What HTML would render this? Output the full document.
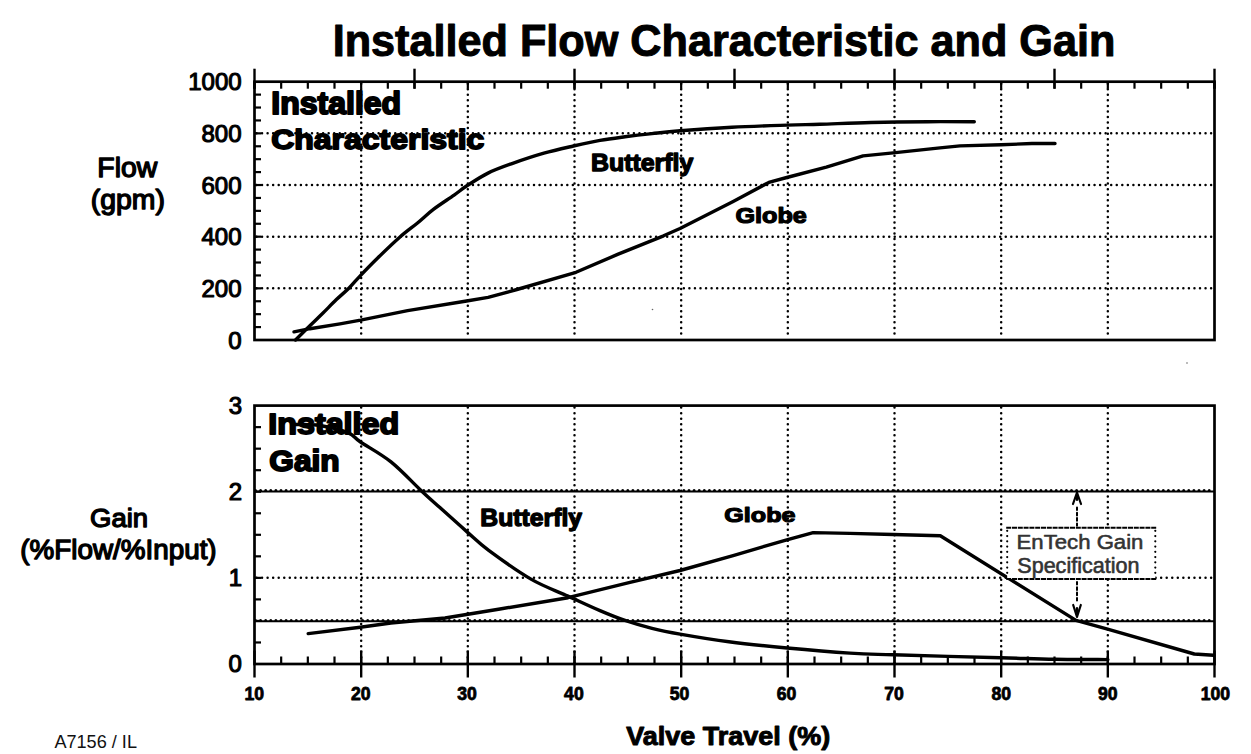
<!DOCTYPE html>
<html><head><meta charset="utf-8"><style>
html,body{margin:0;padding:0;background:#fff;overflow:hidden;}
svg{display:block;}
text{font-family:"Liberation Sans",sans-serif;}
</style></head><body>
<svg width="1251" height="754" viewBox="0 0 1251 754">
<rect width="1251" height="754" fill="#fff"/>
<line x1="361.17" y1="83.70" x2="361.17" y2="339.00" stroke="#000" stroke-width="2.5" stroke-dasharray="0 5.55" stroke-linecap="round"/>
<line x1="467.83" y1="83.70" x2="467.83" y2="339.00" stroke="#000" stroke-width="2.5" stroke-dasharray="0 5.55" stroke-linecap="round"/>
<line x1="574.50" y1="83.70" x2="574.50" y2="339.00" stroke="#000" stroke-width="2.5" stroke-dasharray="0 5.55" stroke-linecap="round"/>
<line x1="681.17" y1="83.70" x2="681.17" y2="339.00" stroke="#000" stroke-width="2.5" stroke-dasharray="0 5.55" stroke-linecap="round"/>
<line x1="787.83" y1="83.70" x2="787.83" y2="339.00" stroke="#000" stroke-width="2.5" stroke-dasharray="0 5.55" stroke-linecap="round"/>
<line x1="894.50" y1="83.70" x2="894.50" y2="339.00" stroke="#000" stroke-width="2.5" stroke-dasharray="0 5.55" stroke-linecap="round"/>
<line x1="1001.17" y1="83.70" x2="1001.17" y2="339.00" stroke="#000" stroke-width="2.5" stroke-dasharray="0 5.55" stroke-linecap="round"/>
<line x1="1107.83" y1="83.70" x2="1107.83" y2="339.00" stroke="#000" stroke-width="2.5" stroke-dasharray="0 5.55" stroke-linecap="round"/>
<line x1="256.50" y1="288.34" x2="1213.50" y2="288.34" stroke="#000" stroke-width="2.5" stroke-dasharray="0 5.55" stroke-linecap="round"/>
<line x1="256.50" y1="236.68" x2="1213.50" y2="236.68" stroke="#000" stroke-width="2.5" stroke-dasharray="0 5.55" stroke-linecap="round"/>
<line x1="256.50" y1="185.02" x2="1213.50" y2="185.02" stroke="#000" stroke-width="2.5" stroke-dasharray="0 5.55" stroke-linecap="round"/>
<line x1="256.50" y1="133.36" x2="1213.50" y2="133.36" stroke="#000" stroke-width="2.5" stroke-dasharray="0 5.55" stroke-linecap="round"/>
<rect x="254.50" y="81.70" width="960.00" height="258.30" fill="none" stroke="#000" stroke-width="2.7"/>
<line x1="254.50" y1="81.70" x2="254.50" y2="88.70" stroke="#000" stroke-width="2.2" />
<line x1="281.17" y1="81.70" x2="281.17" y2="88.70" stroke="#000" stroke-width="2.2" />
<line x1="307.83" y1="81.70" x2="307.83" y2="88.70" stroke="#000" stroke-width="2.2" />
<line x1="334.50" y1="81.70" x2="334.50" y2="88.70" stroke="#000" stroke-width="2.2" />
<line x1="361.17" y1="81.70" x2="361.17" y2="88.70" stroke="#000" stroke-width="2.2" />
<line x1="387.83" y1="81.70" x2="387.83" y2="88.70" stroke="#000" stroke-width="2.2" />
<line x1="414.50" y1="81.70" x2="414.50" y2="88.70" stroke="#000" stroke-width="2.2" />
<line x1="441.17" y1="81.70" x2="441.17" y2="88.70" stroke="#000" stroke-width="2.2" />
<line x1="467.83" y1="81.70" x2="467.83" y2="88.70" stroke="#000" stroke-width="2.2" />
<line x1="494.50" y1="81.70" x2="494.50" y2="88.70" stroke="#000" stroke-width="2.2" />
<line x1="521.17" y1="81.70" x2="521.17" y2="88.70" stroke="#000" stroke-width="2.2" />
<line x1="547.83" y1="81.70" x2="547.83" y2="88.70" stroke="#000" stroke-width="2.2" />
<line x1="574.50" y1="81.70" x2="574.50" y2="88.70" stroke="#000" stroke-width="2.2" />
<line x1="601.17" y1="81.70" x2="601.17" y2="88.70" stroke="#000" stroke-width="2.2" />
<line x1="627.83" y1="81.70" x2="627.83" y2="88.70" stroke="#000" stroke-width="2.2" />
<line x1="654.50" y1="81.70" x2="654.50" y2="88.70" stroke="#000" stroke-width="2.2" />
<line x1="681.17" y1="81.70" x2="681.17" y2="88.70" stroke="#000" stroke-width="2.2" />
<line x1="707.83" y1="81.70" x2="707.83" y2="88.70" stroke="#000" stroke-width="2.2" />
<line x1="734.50" y1="81.70" x2="734.50" y2="88.70" stroke="#000" stroke-width="2.2" />
<line x1="761.17" y1="81.70" x2="761.17" y2="88.70" stroke="#000" stroke-width="2.2" />
<line x1="787.83" y1="81.70" x2="787.83" y2="88.70" stroke="#000" stroke-width="2.2" />
<line x1="814.50" y1="81.70" x2="814.50" y2="88.70" stroke="#000" stroke-width="2.2" />
<line x1="841.17" y1="81.70" x2="841.17" y2="88.70" stroke="#000" stroke-width="2.2" />
<line x1="867.83" y1="81.70" x2="867.83" y2="88.70" stroke="#000" stroke-width="2.2" />
<line x1="894.50" y1="81.70" x2="894.50" y2="88.70" stroke="#000" stroke-width="2.2" />
<line x1="921.17" y1="81.70" x2="921.17" y2="88.70" stroke="#000" stroke-width="2.2" />
<line x1="947.83" y1="81.70" x2="947.83" y2="88.70" stroke="#000" stroke-width="2.2" />
<line x1="974.50" y1="81.70" x2="974.50" y2="88.70" stroke="#000" stroke-width="2.2" />
<line x1="1001.17" y1="81.70" x2="1001.17" y2="88.70" stroke="#000" stroke-width="2.2" />
<line x1="1027.83" y1="81.70" x2="1027.83" y2="88.70" stroke="#000" stroke-width="2.2" />
<line x1="1054.50" y1="81.70" x2="1054.50" y2="88.70" stroke="#000" stroke-width="2.2" />
<line x1="1081.17" y1="81.70" x2="1081.17" y2="88.70" stroke="#000" stroke-width="2.2" />
<line x1="1107.83" y1="81.70" x2="1107.83" y2="88.70" stroke="#000" stroke-width="2.2" />
<line x1="1134.50" y1="81.70" x2="1134.50" y2="88.70" stroke="#000" stroke-width="2.2" />
<line x1="1161.17" y1="81.70" x2="1161.17" y2="88.70" stroke="#000" stroke-width="2.2" />
<line x1="1187.83" y1="81.70" x2="1187.83" y2="88.70" stroke="#000" stroke-width="2.2" />
<line x1="1214.50" y1="81.70" x2="1214.50" y2="88.70" stroke="#000" stroke-width="2.2" />
<line x1="254.50" y1="68.70" x2="254.50" y2="88.70" stroke="#000" stroke-width="2.4" />
<line x1="414.50" y1="68.70" x2="414.50" y2="88.70" stroke="#000" stroke-width="2.4" />
<line x1="574.50" y1="68.70" x2="574.50" y2="88.70" stroke="#000" stroke-width="2.4" />
<line x1="734.50" y1="68.70" x2="734.50" y2="88.70" stroke="#000" stroke-width="2.4" />
<line x1="894.50" y1="68.70" x2="894.50" y2="88.70" stroke="#000" stroke-width="2.4" />
<line x1="1054.50" y1="68.70" x2="1054.50" y2="88.70" stroke="#000" stroke-width="2.4" />
<line x1="1214.50" y1="68.70" x2="1214.50" y2="88.70" stroke="#000" stroke-width="2.4" />
<line x1="254.50" y1="327.08" x2="261.00" y2="327.08" stroke="#000" stroke-width="2.2" />
<line x1="254.50" y1="314.17" x2="261.00" y2="314.17" stroke="#000" stroke-width="2.2" />
<line x1="254.50" y1="301.25" x2="261.00" y2="301.25" stroke="#000" stroke-width="2.2" />
<line x1="254.50" y1="288.34" x2="261.00" y2="288.34" stroke="#000" stroke-width="2.2" />
<line x1="254.50" y1="275.43" x2="261.00" y2="275.43" stroke="#000" stroke-width="2.2" />
<line x1="254.50" y1="262.51" x2="261.00" y2="262.51" stroke="#000" stroke-width="2.2" />
<line x1="254.50" y1="249.59" x2="261.00" y2="249.59" stroke="#000" stroke-width="2.2" />
<line x1="254.50" y1="236.68" x2="261.00" y2="236.68" stroke="#000" stroke-width="2.2" />
<line x1="254.50" y1="223.76" x2="261.00" y2="223.76" stroke="#000" stroke-width="2.2" />
<line x1="254.50" y1="210.85" x2="261.00" y2="210.85" stroke="#000" stroke-width="2.2" />
<line x1="254.50" y1="197.94" x2="261.00" y2="197.94" stroke="#000" stroke-width="2.2" />
<line x1="254.50" y1="185.02" x2="261.00" y2="185.02" stroke="#000" stroke-width="2.2" />
<line x1="254.50" y1="172.10" x2="261.00" y2="172.10" stroke="#000" stroke-width="2.2" />
<line x1="254.50" y1="159.19" x2="261.00" y2="159.19" stroke="#000" stroke-width="2.2" />
<line x1="254.50" y1="146.28" x2="261.00" y2="146.28" stroke="#000" stroke-width="2.2" />
<line x1="254.50" y1="133.36" x2="261.00" y2="133.36" stroke="#000" stroke-width="2.2" />
<line x1="254.50" y1="120.44" x2="261.00" y2="120.44" stroke="#000" stroke-width="2.2" />
<line x1="254.50" y1="107.53" x2="261.00" y2="107.53" stroke="#000" stroke-width="2.2" />
<line x1="254.50" y1="94.62" x2="261.00" y2="94.62" stroke="#000" stroke-width="2.2" />
<line x1="361.17" y1="407.60" x2="361.17" y2="663.00" stroke="#000" stroke-width="2.5" stroke-dasharray="0 5.55" stroke-linecap="round"/>
<line x1="467.83" y1="407.60" x2="467.83" y2="663.00" stroke="#000" stroke-width="2.5" stroke-dasharray="0 5.55" stroke-linecap="round"/>
<line x1="574.50" y1="407.60" x2="574.50" y2="663.00" stroke="#000" stroke-width="2.5" stroke-dasharray="0 5.55" stroke-linecap="round"/>
<line x1="681.17" y1="407.60" x2="681.17" y2="663.00" stroke="#000" stroke-width="2.5" stroke-dasharray="0 5.55" stroke-linecap="round"/>
<line x1="787.83" y1="407.60" x2="787.83" y2="663.00" stroke="#000" stroke-width="2.5" stroke-dasharray="0 5.55" stroke-linecap="round"/>
<line x1="894.50" y1="407.60" x2="894.50" y2="663.00" stroke="#000" stroke-width="2.5" stroke-dasharray="0 5.55" stroke-linecap="round"/>
<line x1="1001.17" y1="407.60" x2="1001.17" y2="663.00" stroke="#000" stroke-width="2.5" stroke-dasharray="0 5.55" stroke-linecap="round"/>
<line x1="1107.83" y1="407.60" x2="1107.83" y2="663.00" stroke="#000" stroke-width="2.5" stroke-dasharray="0 5.55" stroke-linecap="round"/>
<line x1="256.50" y1="577.87" x2="1213.50" y2="577.87" stroke="#000" stroke-width="2.5" stroke-dasharray="0 5.55" stroke-linecap="round"/>
<line x1="254.50" y1="491.50" x2="1214.50" y2="491.50" stroke="#000" stroke-width="1.9" />
<line x1="255.50" y1="490.40" x2="1213.50" y2="490.40" stroke="#000" stroke-width="3.0" stroke-dasharray="0 5.1" stroke-linecap="round"/>
<line x1="254.50" y1="621.20" x2="1214.50" y2="621.20" stroke="#000" stroke-width="1.9" />
<line x1="255.50" y1="620.60" x2="1213.50" y2="620.60" stroke="#000" stroke-width="3.0" stroke-dasharray="0 5.1" stroke-linecap="round"/>
<rect x="254.50" y="405.60" width="960.00" height="258.40" fill="none" stroke="#000" stroke-width="2.7"/>
<line x1="281.17" y1="664.00" x2="281.17" y2="656.50" stroke="#000" stroke-width="2.2" />
<line x1="307.83" y1="664.00" x2="307.83" y2="656.50" stroke="#000" stroke-width="2.2" />
<line x1="334.50" y1="664.00" x2="334.50" y2="656.50" stroke="#000" stroke-width="2.2" />
<line x1="361.17" y1="664.00" x2="361.17" y2="656.50" stroke="#000" stroke-width="2.2" />
<line x1="387.83" y1="664.00" x2="387.83" y2="656.50" stroke="#000" stroke-width="2.2" />
<line x1="414.50" y1="664.00" x2="414.50" y2="656.50" stroke="#000" stroke-width="2.2" />
<line x1="441.17" y1="664.00" x2="441.17" y2="656.50" stroke="#000" stroke-width="2.2" />
<line x1="467.83" y1="664.00" x2="467.83" y2="656.50" stroke="#000" stroke-width="2.2" />
<line x1="494.50" y1="664.00" x2="494.50" y2="656.50" stroke="#000" stroke-width="2.2" />
<line x1="521.17" y1="664.00" x2="521.17" y2="656.50" stroke="#000" stroke-width="2.2" />
<line x1="547.83" y1="664.00" x2="547.83" y2="656.50" stroke="#000" stroke-width="2.2" />
<line x1="574.50" y1="664.00" x2="574.50" y2="656.50" stroke="#000" stroke-width="2.2" />
<line x1="601.17" y1="664.00" x2="601.17" y2="656.50" stroke="#000" stroke-width="2.2" />
<line x1="627.83" y1="664.00" x2="627.83" y2="656.50" stroke="#000" stroke-width="2.2" />
<line x1="654.50" y1="664.00" x2="654.50" y2="656.50" stroke="#000" stroke-width="2.2" />
<line x1="681.17" y1="664.00" x2="681.17" y2="656.50" stroke="#000" stroke-width="2.2" />
<line x1="707.83" y1="664.00" x2="707.83" y2="656.50" stroke="#000" stroke-width="2.2" />
<line x1="734.50" y1="664.00" x2="734.50" y2="656.50" stroke="#000" stroke-width="2.2" />
<line x1="761.17" y1="664.00" x2="761.17" y2="656.50" stroke="#000" stroke-width="2.2" />
<line x1="787.83" y1="664.00" x2="787.83" y2="656.50" stroke="#000" stroke-width="2.2" />
<line x1="814.50" y1="664.00" x2="814.50" y2="656.50" stroke="#000" stroke-width="2.2" />
<line x1="841.17" y1="664.00" x2="841.17" y2="656.50" stroke="#000" stroke-width="2.2" />
<line x1="867.83" y1="664.00" x2="867.83" y2="656.50" stroke="#000" stroke-width="2.2" />
<line x1="894.50" y1="664.00" x2="894.50" y2="656.50" stroke="#000" stroke-width="2.2" />
<line x1="921.17" y1="664.00" x2="921.17" y2="656.50" stroke="#000" stroke-width="2.2" />
<line x1="947.83" y1="664.00" x2="947.83" y2="656.50" stroke="#000" stroke-width="2.2" />
<line x1="974.50" y1="664.00" x2="974.50" y2="656.50" stroke="#000" stroke-width="2.2" />
<line x1="1001.17" y1="664.00" x2="1001.17" y2="656.50" stroke="#000" stroke-width="2.2" />
<line x1="1027.83" y1="664.00" x2="1027.83" y2="656.50" stroke="#000" stroke-width="2.2" />
<line x1="1054.50" y1="664.00" x2="1054.50" y2="656.50" stroke="#000" stroke-width="2.2" />
<line x1="1081.17" y1="664.00" x2="1081.17" y2="656.50" stroke="#000" stroke-width="2.2" />
<line x1="1107.83" y1="664.00" x2="1107.83" y2="656.50" stroke="#000" stroke-width="2.2" />
<line x1="1134.50" y1="664.00" x2="1134.50" y2="656.50" stroke="#000" stroke-width="2.2" />
<line x1="1161.17" y1="664.00" x2="1161.17" y2="656.50" stroke="#000" stroke-width="2.2" />
<line x1="1187.83" y1="664.00" x2="1187.83" y2="656.50" stroke="#000" stroke-width="2.2" />
<line x1="254.50" y1="650.50" x2="254.50" y2="677.50" stroke="#000" stroke-width="2.4" />
<line x1="361.17" y1="650.50" x2="361.17" y2="677.50" stroke="#000" stroke-width="2.4" />
<line x1="467.83" y1="650.50" x2="467.83" y2="677.50" stroke="#000" stroke-width="2.4" />
<line x1="574.50" y1="650.50" x2="574.50" y2="677.50" stroke="#000" stroke-width="2.4" />
<line x1="681.17" y1="650.50" x2="681.17" y2="677.50" stroke="#000" stroke-width="2.4" />
<line x1="787.83" y1="650.50" x2="787.83" y2="677.50" stroke="#000" stroke-width="2.4" />
<line x1="894.50" y1="650.50" x2="894.50" y2="677.50" stroke="#000" stroke-width="2.4" />
<line x1="1001.17" y1="650.50" x2="1001.17" y2="677.50" stroke="#000" stroke-width="2.4" />
<line x1="1107.83" y1="650.50" x2="1107.83" y2="677.50" stroke="#000" stroke-width="2.4" />
<line x1="1214.50" y1="650.50" x2="1214.50" y2="677.50" stroke="#000" stroke-width="2.4" />
<line x1="254.50" y1="642.47" x2="261.00" y2="642.47" stroke="#000" stroke-width="2.2" />
<line x1="254.50" y1="620.93" x2="261.00" y2="620.93" stroke="#000" stroke-width="2.2" />
<line x1="254.50" y1="599.40" x2="261.00" y2="599.40" stroke="#000" stroke-width="2.2" />
<line x1="254.50" y1="577.87" x2="261.00" y2="577.87" stroke="#000" stroke-width="2.2" />
<line x1="254.50" y1="556.33" x2="261.00" y2="556.33" stroke="#000" stroke-width="2.2" />
<line x1="254.50" y1="534.80" x2="261.00" y2="534.80" stroke="#000" stroke-width="2.2" />
<line x1="254.50" y1="513.27" x2="261.00" y2="513.27" stroke="#000" stroke-width="2.2" />
<line x1="254.50" y1="491.73" x2="261.00" y2="491.73" stroke="#000" stroke-width="2.2" />
<line x1="254.50" y1="470.20" x2="261.00" y2="470.20" stroke="#000" stroke-width="2.2" />
<line x1="254.50" y1="448.67" x2="261.00" y2="448.67" stroke="#000" stroke-width="2.2" />
<line x1="254.50" y1="427.13" x2="261.00" y2="427.13" stroke="#000" stroke-width="2.2" />
<path d="M295.50,340.00 C297.90,337.62 305.40,330.12 309.90,325.70 C314.40,321.28 318.08,317.85 322.50,313.50 C326.92,309.15 331.97,303.85 336.40,299.60 C340.83,295.35 345.13,291.97 349.10,288.00 C353.07,284.03 355.43,280.80 360.20,275.80 C364.97,270.80 371.07,264.47 377.70,258.00 C384.33,251.53 393.37,242.83 400.00,237.00 C406.63,231.17 411.93,227.60 417.50,223.00 C423.07,218.40 427.30,214.05 433.40,209.40 C439.50,204.75 448.52,199.03 454.10,195.10 C459.68,191.17 461.25,189.47 466.90,185.80 C472.55,182.13 480.48,176.80 488.00,173.10 C495.52,169.40 502.68,166.92 512.00,163.60 C521.32,160.28 533.65,156.13 543.90,153.20 C554.15,150.27 564.15,148.13 573.50,146.00 C582.85,143.87 591.42,141.93 600.00,140.40 C608.58,138.87 616.33,137.93 625.00,136.80 C633.67,135.67 642.83,134.60 652.00,133.60 C661.17,132.60 666.68,131.85 680.00,130.80 C693.32,129.75 714.05,128.25 731.90,127.30 C749.75,126.35 772.42,125.62 787.10,125.10 C801.78,124.58 806.02,124.63 820.00,124.20 C833.98,123.77 853.00,122.92 871.00,122.50 C889.00,122.08 910.78,121.83 928.00,121.70 C945.22,121.57 966.58,121.70 974.30,121.70" fill="none" stroke="#000" stroke-width="3.4" stroke-linejoin="round" stroke-linecap="round"/>
<polyline points="294.0,331.9 309.9,328.7 340.0,323.9 360.6,320.2 407.6,310.6 466.6,301.0 488.1,297.4 516.9,289.5 576.0,272.3 617.6,254.4 663.6,235.8 680.0,228.5 732.7,201.7 768.8,182.4 786.8,177.5 826.3,167.1 863.1,155.9 893.2,152.9 940.0,147.9 960.0,145.9 1001.0,144.8 1031.9,143.5 1055.0,143.5" fill="none" stroke="#000" stroke-width="3.4" stroke-linejoin="round" stroke-linecap="round"/>
<path d="M294.00,424.50 C298.33,424.67 310.95,424.10 320.00,425.50 C329.05,426.90 341.55,430.15 348.30,432.90 C355.05,435.65 353.38,437.17 360.50,442.00 C367.62,446.83 380.83,453.75 391.00,461.90 C401.17,470.05 413.35,483.28 421.50,490.90 C429.65,498.52 432.27,500.73 439.90,507.60 C447.53,514.47 459.17,524.97 467.30,532.10 C475.43,539.23 478.02,542.52 488.70,550.40 C499.38,558.28 518.18,571.78 531.40,579.40 C544.62,587.02 556.57,590.90 568.00,596.10 C579.43,601.30 590.50,606.55 600.00,610.60 C609.50,614.65 616.33,617.45 625.00,620.40 C633.67,623.35 642.83,626.02 652.00,628.30 C661.17,630.58 667.18,631.85 680.00,634.10 C692.82,636.35 711.05,639.48 728.90,641.80 C746.75,644.12 766.92,646.12 787.10,648.00 C807.28,649.88 832.32,651.97 850.00,653.10 C867.68,654.23 868.08,654.02 893.20,654.80 C918.32,655.58 973.73,657.05 1000.70,657.80 C1027.67,658.55 1037.13,659.00 1055.00,659.30 C1072.87,659.60 1099.08,659.55 1107.90,659.60" fill="none" stroke="#000" stroke-width="3.4" stroke-linejoin="round" stroke-linecap="round"/>
<polyline points="308.2,633.6 360.3,627.3 390.9,623.0 445.0,618.0 500.0,609.0 568.0,597.7 630.0,582.4 680.0,570.5 733.1,555.6 786.8,539.8 813.2,532.6 849.9,533.4 893.1,534.5 940.3,535.8 1076.0,620.4 1107.6,629.1 1194.3,654.0 1213.5,655.3" fill="none" stroke="#000" stroke-width="3.4" stroke-linejoin="round" stroke-linecap="round"/>
<rect x="1007.2" y="527.8" width="148.0999999999999" height="51.200000000000045" fill="#fff" stroke="none"/>
<line x1="1006.20" y1="527.80" x2="1156.30" y2="527.80" stroke="#000" stroke-width="2.0" stroke-dasharray="5 0.8"/>
<line x1="1006.20" y1="579.00" x2="1156.30" y2="579.00" stroke="#000" stroke-width="2.0" stroke-dasharray="5 0.8"/>
<line x1="1007.20" y1="530.80" x2="1007.20" y2="577.00" stroke="#000" stroke-width="2.2" stroke-dasharray="0 5.25" stroke-linecap="round"/>
<line x1="1155.30" y1="530.80" x2="1155.30" y2="577.00" stroke="#000" stroke-width="2.2" stroke-dasharray="0 5.25" stroke-linecap="round"/>
<line x1="1077.00" y1="507.50" x2="1077.00" y2="525.80" stroke="#000" stroke-width="2.0" stroke-dasharray="2.6 2.7" stroke-linecap="round"/>
<line x1="1077.00" y1="582.00" x2="1077.00" y2="602.00" stroke="#000" stroke-width="2.0" stroke-dasharray="2.6 2.7" stroke-linecap="round"/>
<path d="M1073,504 L1077,492.5 L1081,504 M1077,493 L1077,500" fill="none" stroke="#000" stroke-width="2.2" stroke-linecap="round" stroke-linejoin="round"/>
<path d="M1073.2,605 L1077,617 L1080.8,605 M1077,616 L1077,608" fill="none" stroke="#000" stroke-width="2.2" stroke-linecap="round" stroke-linejoin="round"/>
<text transform="translate(1016.55,549.43) scale(1,0.904)" font-size="22.18" font-weight="normal" fill="#333" stroke="#333" stroke-width="0.6" stroke-linejoin="round" >EnTech Gain</text>
<text transform="translate(1017.30,573.20) scale(1,0.988)" font-size="21.54" font-weight="normal" fill="#333" stroke="#333" stroke-width="0.6" stroke-linejoin="round" >Specification</text>
<circle cx="652.5" cy="309.5" r="0.8" fill="#666"/>
<circle cx="1187" cy="363" r="0.8" fill="#666"/>
<text transform="translate(332.70,56.08) scale(1,1.048)" font-size="43.21" font-weight="bold" fill="#000" stroke="#000" stroke-width="1.0" stroke-linejoin="round" >Installed Flow Characteristic and Gain</text>
<text transform="translate(271.25,113.91) scale(1,0.986)" font-size="32.03" font-weight="bold" fill="#000" stroke="#000" stroke-width="2.0" stroke-linejoin="round" >Installed</text>
<text transform="translate(271.25,149.42) scale(1,0.875)" font-size="31.96" font-weight="bold" fill="#000" stroke="#000" stroke-width="2.0" stroke-linejoin="round" >Characteristic</text>
<text transform="translate(590.95,170.91) scale(1,0.985)" font-size="24.90" font-weight="bold" fill="#000" stroke="#000" stroke-width="1.4" stroke-linejoin="round" >Butterfly</text>
<text transform="translate(735.40,223.38) scale(1,0.885)" font-size="25.22" font-weight="bold" fill="#000" stroke="#000" stroke-width="1.4" stroke-linejoin="round" >Globe</text>
<text transform="translate(268.35,434.29) scale(1,0.915)" font-size="32.25" font-weight="bold" fill="#000" stroke="#000" stroke-width="2.0" stroke-linejoin="round" >Installed</text>
<text transform="translate(269.35,471.26) scale(1,0.944)" font-size="31.65" font-weight="bold" fill="#000" stroke="#000" stroke-width="2.0" stroke-linejoin="round" >Gain</text>
<text transform="translate(480.35,526.04) scale(1,0.938)" font-size="24.75" font-weight="bold" fill="#000" stroke="#000" stroke-width="1.4" stroke-linejoin="round" >Butterfly</text>
<text transform="translate(724.30,522.41) scale(1,0.840)" font-size="25.14" font-weight="bold" fill="#000" stroke="#000" stroke-width="1.4" stroke-linejoin="round" >Globe</text>
<text transform="translate(97.35,177.34) scale(1,0.948)" font-size="28.38" font-weight="normal" fill="#000" stroke="#000" stroke-width="1.4" stroke-linejoin="round" >Flow</text>
<text x="90.75" y="208.80" font-size="28.38" font-weight="normal" fill="#000" stroke="#000" stroke-width="1.4" stroke-linejoin="round" >(gpm)</text>
<text transform="translate(90.10,526.84) scale(1,0.944)" font-size="27.45" font-weight="normal" fill="#000" stroke="#000" stroke-width="1.4" stroke-linejoin="round" >Gain</text>
<text x="20.35" y="559.40" font-size="27.82" font-weight="normal" fill="#000" stroke="#000" stroke-width="1.4" stroke-linejoin="round" >(%Flow/%Input)</text>
<text transform="translate(626.25,745.41) scale(1,0.971)" font-size="27.01" font-weight="bold" fill="#000" stroke="#000" stroke-width="1.0" stroke-linejoin="round" >Valve Travel (%)</text>
<text x="54.40" y="747.80" font-size="18.11" font-weight="normal" fill="#111" >A7156 / IL</text>
<text x="228.25" y="348.60" font-size="24.00" font-weight="normal" fill="#000" stroke="#000" stroke-width="1.1" stroke-linejoin="round" >0</text>
<text x="201.50" y="296.94" font-size="24.00" font-weight="normal" fill="#000" stroke="#000" stroke-width="1.1" stroke-linejoin="round" >200</text>
<text x="201.50" y="245.28" font-size="24.00" font-weight="normal" fill="#000" stroke="#000" stroke-width="1.1" stroke-linejoin="round" >400</text>
<text x="201.50" y="193.62" font-size="24.00" font-weight="normal" fill="#000" stroke="#000" stroke-width="1.1" stroke-linejoin="round" >600</text>
<text x="201.50" y="141.96" font-size="24.00" font-weight="normal" fill="#000" stroke="#000" stroke-width="1.1" stroke-linejoin="round" >800</text>
<text x="188.25" y="90.30" font-size="24.00" font-weight="normal" fill="#000" stroke="#000" stroke-width="1.1" stroke-linejoin="round" >1000</text>
<text x="228.45" y="672.00" font-size="24.00" font-weight="normal" fill="#000" stroke="#000" stroke-width="1.1" stroke-linejoin="round" >0</text>
<text x="228.70" y="585.87" font-size="24.00" font-weight="normal" fill="#000" stroke="#000" stroke-width="1.1" stroke-linejoin="round" >1</text>
<text x="228.70" y="499.73" font-size="24.00" font-weight="normal" fill="#000" stroke="#000" stroke-width="1.1" stroke-linejoin="round" >2</text>
<text x="228.70" y="413.60" font-size="24.00" font-weight="normal" fill="#000" stroke="#000" stroke-width="1.1" stroke-linejoin="round" >3</text>
<text x="244.38" y="700.40" font-size="17.60" font-weight="bold" fill="#000" stroke="#000" stroke-width="0.8" stroke-linejoin="round" >10</text>
<text x="350.88" y="700.40" font-size="17.60" font-weight="bold" fill="#000" stroke="#000" stroke-width="0.8" stroke-linejoin="round" >20</text>
<text x="457.27" y="700.40" font-size="17.60" font-weight="bold" fill="#000" stroke="#000" stroke-width="0.8" stroke-linejoin="round" >30</text>
<text x="564.10" y="700.40" font-size="17.60" font-weight="bold" fill="#000" stroke="#000" stroke-width="0.8" stroke-linejoin="round" >40</text>
<text x="669.77" y="700.40" font-size="17.60" font-weight="bold" fill="#000" stroke="#000" stroke-width="0.8" stroke-linejoin="round" >50</text>
<text x="776.65" y="700.40" font-size="17.60" font-weight="bold" fill="#000" stroke="#000" stroke-width="0.8" stroke-linejoin="round" >60</text>
<text x="884.25" y="700.40" font-size="17.60" font-weight="bold" fill="#000" stroke="#000" stroke-width="0.8" stroke-linejoin="round" >70</text>
<text x="991.38" y="700.40" font-size="17.60" font-weight="bold" fill="#000" stroke="#000" stroke-width="0.8" stroke-linejoin="round" >80</text>
<text x="1097.88" y="700.40" font-size="17.60" font-weight="bold" fill="#000" stroke="#000" stroke-width="0.8" stroke-linejoin="round" >90</text>
<text x="1200.65" y="700.40" font-size="17.60" font-weight="bold" fill="#000" stroke="#000" stroke-width="0.8" stroke-linejoin="round" >100</text>
</svg>
</body></html>
